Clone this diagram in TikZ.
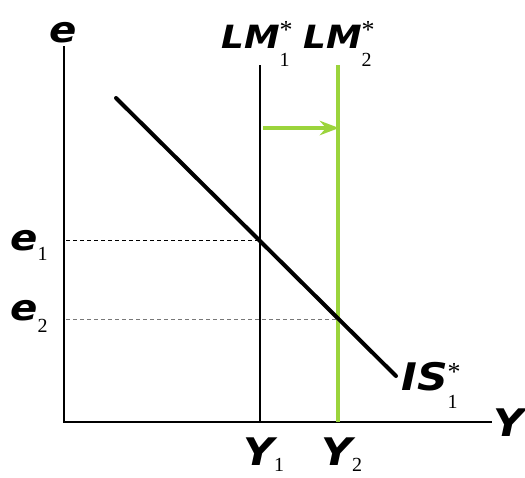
\documentclass[tikz,border=0pt]{standalone}
\usepackage{fontspec}
\setmainfont{DejaVu Sans}
\newfontfamily\varfont[FakeStretch=1.12]{DejaVu Sans}
\newfontfamily\idxfont{Liberation Serif}
\usetikzlibrary{arrows.meta}

\definecolor{shiftgreen}{RGB}{155,212,60}
\definecolor{dashgray}{RGB}{120,120,120}

% bold italic letters with sub/superscript index
\newcommand{\var}[2]{{\varfont\fontsize{#1}{#1}\selectfont\bfseries\itshape #2}}
\newcommand{\ix}[3][12pt]{\makebox[0pt][l]{\raisebox{10pt}{\idxfont\fontsize{26}{26}\selectfont #2}}%
  \raisebox{-#1}{\idxfont\fontsize{20}{20}\selectfont #3}}

\begin{document}
\begin{tikzpicture}[x=1pt, y=-1pt, >={Stealth}, inner sep=0pt,
    axis/.style={line width=1.4pt},
    lbl/.style={anchor=base west}]
    \useasboundingbox (0,0) rectangle (525,477);

    \coordinate (o) at (64,422);
    \coordinate (etop) at (64,46);
    \coordinate (yend) at (492,422);

    \node[anchor=base] (elbl) at (63,42) {\var{36}{e}};
    \node[anchor=west] (ylbl) at (493,423) {\var{38}{Y}};

    \coordinate (lm1top) at (260,65);
    \coordinate (lm1bot) at (260,422);
    \coordinate (lm2top) at (338,65);
    \coordinate (lm2bot) at (338,422);
    \node[lbl] (lm1lbl) at (221,48) {\var{32}{LM}\ix[18pt]{*}{1}};
    \node[lbl] (lm2lbl) at (303,48) {\var{32}{LM}\ix[18pt]{*}{2}};

    \coordinate (is1) at (116,98);
    \coordinate (is2) at (396,376);
    \node[lbl] (islbl) at (401,390) {\var{38}{IS}\ix[18pt]{*}{1}};

    \coordinate (e1) at (66,240);
    \coordinate (e2) at (66,319);
    \coordinate (p1) at (260,240);
    \coordinate (p2) at (338,319);
    \node[lbl] (e1lbl) at (10,250) {\var{36}{e}\ix[10pt]{}{1}};
    \node[lbl] (e2lbl) at (10,320) {\var{36}{e}\ix[12pt]{}{2}};
    \node[lbl] (y1lbl) at (243,465) {\var{38}{Y}\ix[6pt]{}{1}};
    \node[lbl] (y2lbl) at (321,465) {\var{38}{Y}\ix[6pt]{}{2}};

    \coordinate (a1) at (263,128);
    \coordinate (a2) at (339,128);

    \draw[axis] (etop) -- (o) -- (yend);
    \draw[dashed, dash pattern=on 4pt off 3pt, line width=0.8pt] (e1) -- (p1);
    \draw[dashed, dash pattern=on 4pt off 3pt, line width=0.8pt, dashgray] (e2) -- (p2);
    \draw[line width=2.6pt] (lm1top) -- (lm1bot);
    \draw[line width=4pt, shiftgreen] (lm2top) -- (lm2bot);
    \draw[line width=4pt, line cap=round] (is1) -- (is2);
    \draw[->, line width=3.6pt, shiftgreen] (a1) -- (a2);
\end{tikzpicture}
\end{document}
